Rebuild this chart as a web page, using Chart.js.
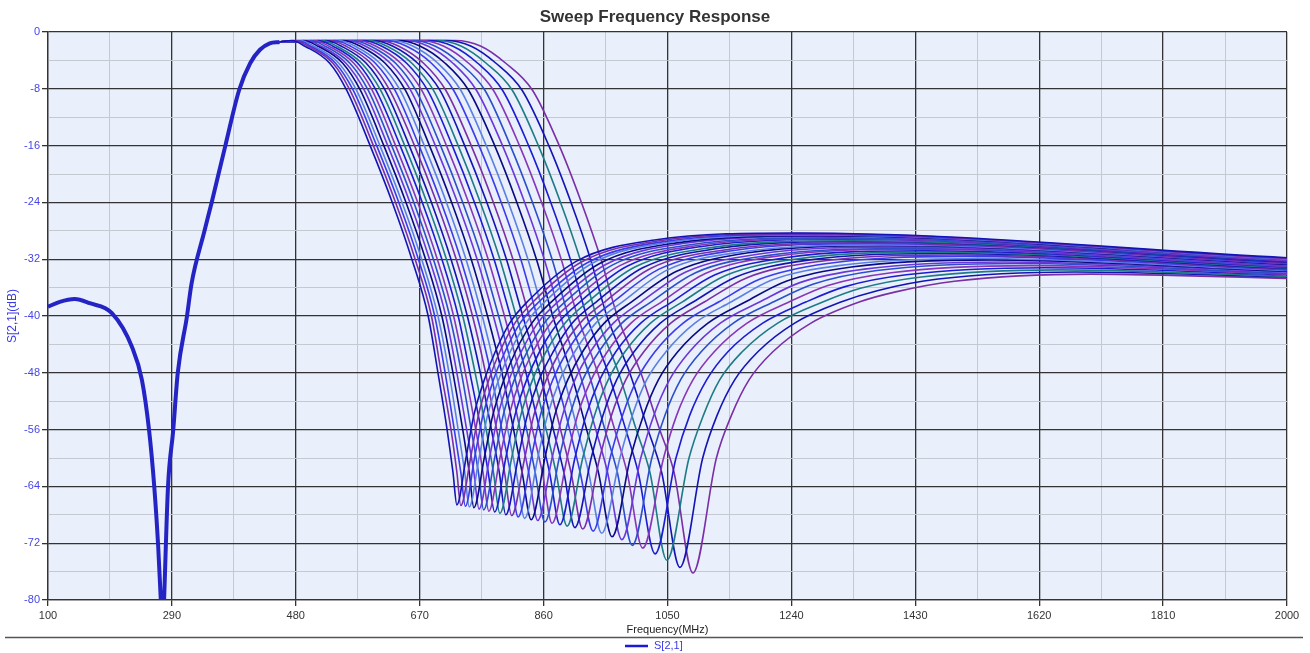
<!DOCTYPE html>
<html>
<head>
<meta charset="utf-8">
<title>Sweep Frequency Response</title>
<script src="https://cdn.jsdelivr.net/npm/chart.js@4.4.1/dist/chart.umd.min.js"></script>
<style>
  html, body { margin: 0; padding: 0; background: #fff; }
  #wrap { width: 1310px; height: 653px; position: relative; }
</style>
</head>
<body>
<div id="wrap"><canvas id="sweepChart"></canvas></div>
<script>
// =================== DATA ===================
// shared low-frequency part (all sweeps overlap here)
const freqLow = [100, 118, 141, 164, 198, 229, 244, 255, 263, 269, 273, 275.5, 278, 284, 292, 299, 313, 320, 340, 351, 372, 393, 410, 425, 440, 455];
const dbLow = [-38.7, -38.0, -37.6, -38.2, -39.6, -44.4, -49.0, -56.1, -64.1, -72.5, -80, -86, -80, -64.1, -56.1, -48.0, -40.1, -35.5, -28.0, -24.0, -16.0, -8.2, -4.4, -2.5, -1.6, -1.4];

// roll-off: frequency (MHz) where each sweep crosses these levels
const rollLevels = [-1.2, -2, -4.4, -8.2, -16, -24, -32, -40, -48, -56, -62];
const rollFreq = [
	[474, 494, 532, 558, 594, 628, 658, 683, 698, 712, 721],
	[478, 499, 537, 563, 599, 633, 663, 688, 703, 718, 727],
	[483, 503, 541, 568, 604, 638, 668, 693, 709, 723, 733],
	[487, 508, 546, 573, 609, 643, 673, 698, 715, 729, 739],
	[492, 514, 552, 579, 615, 649, 679, 704, 721, 736, 746],
	[497, 519, 557, 585, 621, 655, 685, 710, 727, 742, 753],
	[503, 525, 563, 591, 627, 661, 691, 716, 734, 749, 760],
	[508, 531, 569, 597, 633, 667, 697, 722, 740, 756, 767],
	[514, 537, 575, 603, 640, 674, 704, 729, 747, 764, 775],
	[520, 543, 581, 610, 647, 681, 711, 736, 755, 772, 783],
	[526, 550, 588, 617, 654, 688, 718, 743, 763, 780, 792],
	[532, 557, 595, 624, 662, 696, 726, 751, 771, 788, 800],
	[539, 564, 602, 632, 669, 703, 733, 758, 779, 796, 809],
	[546, 571, 609, 640, 677, 711, 741, 766, 787, 805, 818],
	[553, 579, 617, 648, 685, 719, 749, 774, 796, 814, 827],
	[560, 587, 625, 656, 694, 728, 758, 783, 805, 824, 837],
	[567, 595, 633, 664, 702, 736, 766, 791, 814, 834, 847],
	[575, 603, 641, 673, 711, 745, 775, 800, 823, 843, 858],
	[583, 612, 650, 682, 720, 754, 784, 809, 833, 854, 869],
	[591, 620, 658, 691, 729, 763, 793, 818, 843, 864, 879],
	[599, 629, 667, 701, 739, 773, 803, 828, 854, 875, 891],
	[608, 638, 676, 710, 749, 783, 813, 838, 864, 886, 902],
	[618, 650, 688, 722, 761, 795, 825, 850, 877, 900, 916],
	[628, 660, 698, 733, 772, 806, 836, 861, 889, 912, 929],
	[638, 671, 709, 745, 785, 819, 849, 874, 902, 926, 944],
	[649, 683, 721, 757, 797, 831, 861, 886, 915, 940, 958],
	[660, 694, 732, 770, 809, 843, 873, 898, 929, 954, 973],
	[671, 707, 745, 783, 823, 857, 887, 912, 943, 969, 988],
	[684, 721, 759, 797, 837, 871, 901, 926, 959, 986, 1005],
	[697, 734, 772, 812, 852, 886, 916, 941, 975, 1002, 1023],
	[710, 749, 787, 827, 868, 902, 932, 957, 992, 1020, 1041],
	[724, 764, 802, 843, 884, 918, 948, 973, 1009, 1038, 1060],
];

// notch of each sweep
const notchFreq = [727, 733, 740, 746, 753, 761, 768, 776, 785, 793, 802, 811, 821, 831, 841, 851, 862, 873, 885, 896, 908, 920, 936, 949, 965, 980, 996, 1012, 1031, 1049, 1069, 1089];
const notchDb = [-66.6, -66.7, -66.8, -66.9, -67.0, -67.2, -67.3, -67.5, -67.6, -67.8, -68.0, -68.1, -68.3, -68.5, -68.7, -68.8, -69.0, -69.2, -69.4, -69.6, -69.8, -70.0, -70.3, -70.6, -71.1, -71.5, -72.3, -72.7, -73.5, -74.4, -75.4, -76.2];

// recovery after the notch
const riseLevels = [-60, -54, -49, -45, -41, -38];
const riseFreq = [
	[741, 753, 769, 786, 808, 835],
	[748, 760, 776, 793, 816, 844],
	[754, 767, 783, 801, 824, 853],
	[761, 774, 791, 809, 833, 862],
	[769, 782, 799, 817, 842, 872],
	[777, 790, 807, 826, 851, 882],
	[785, 798, 815, 835, 861, 893],
	[793, 807, 824, 844, 871, 904],
	[802, 816, 834, 854, 882, 916],
	[811, 825, 843, 864, 893, 928],
	[821, 835, 853, 875, 904, 941],
	[831, 845, 864, 885, 916, 954],
	[841, 855, 874, 896, 928, 967],
	[851, 866, 885, 908, 940, 981],
	[862, 877, 897, 920, 953, 995],
	[873, 889, 908, 932, 967, 1010],
	[884, 900, 920, 945, 980, 1025],
	[896, 912, 933, 958, 994, 1041],
	[908, 925, 946, 971, 1009, 1057],
	[920, 938, 959, 985, 1024, 1073],
	[933, 951, 972, 999, 1039, 1090],
	[946, 964, 986, 1014, 1055, 1107],
	[962, 981, 1003, 1031, 1074, 1129],
	[977, 996, 1018, 1048, 1092, 1148],
	[993, 1013, 1036, 1066, 1112, 1170],
	[1009, 1029, 1053, 1084, 1131, 1192],
	[1026, 1046, 1070, 1102, 1151, 1213],
	[1044, 1064, 1089, 1122, 1172, 1237],
	[1063, 1084, 1110, 1143, 1196, 1263],
	[1083, 1105, 1130, 1165, 1219, 1289],
	[1104, 1126, 1153, 1189, 1245, 1317],
	[1125, 1148, 1175, 1212, 1270, 1345],
];

// stop-band plateau: knee, near-max, max (MHz) then the 2000 MHz end
const tailFreq = [
	[910, 1030, 1250], [918, 1038, 1258], [927, 1046, 1266], [936, 1054, 1274],
	[946, 1064, 1283], [956, 1073, 1292], [966, 1082, 1301], [977, 1093, 1311],
	[988, 1103, 1322], [1000, 1114, 1332], [1012, 1126, 1344], [1024, 1137, 1355],
	[1037, 1149, 1367], [1050, 1162, 1379], [1064, 1174, 1391], [1078, 1188, 1404],
	[1093, 1202, 1418], [1108, 1215, 1431], [1123, 1230, 1446], [1139, 1245, 1460],
	[1155, 1260, 1475], [1172, 1276, 1490], [1192, 1295, 1509], [1211, 1312, 1526],
	[1232, 1332, 1546], [1253, 1352, 1565], [1274, 1371, 1584], [1296, 1393, 1605],
	[1321, 1416, 1628], [1346, 1439, 1651], [1373, 1465, 1675], [1400, 1490, 1700],
];
const tailDb = [
	[-32.3, -29.3, -28.3, -31.8], [-32.4, -29.4, -28.4, -31.9], [-32.5, -29.5, -28.5, -31.9], [-32.5, -29.6, -28.6, -32.0],
	[-32.6, -29.7, -28.7, -32.0], [-32.7, -29.8, -28.8, -32.1], [-32.8, -30.0, -29.0, -32.1], [-32.9, -30.1, -29.1, -32.2],
	[-33.0, -30.2, -29.2, -32.3], [-33.1, -30.4, -29.4, -32.3], [-33.2, -30.5, -29.5, -32.4], [-33.3, -30.7, -29.7, -32.5],
	[-33.4, -30.8, -29.8, -32.6], [-33.5, -31.0, -30.0, -32.6], [-33.7, -31.1, -30.1, -32.7], [-33.8, -31.3, -30.3, -32.8],
	[-33.9, -31.5, -30.5, -32.9], [-34.0, -31.6, -30.6, -33.0], [-34.2, -31.8, -30.8, -33.1], [-34.3, -32.0, -31.0, -33.2],
	[-34.5, -32.2, -31.2, -33.3], [-34.6, -32.4, -31.4, -33.4], [-34.8, -32.6, -31.6, -33.5], [-34.9, -32.9, -31.9, -33.6],
	[-35.1, -33.1, -32.1, -33.7], [-35.3, -33.4, -32.4, -33.8], [-35.5, -33.6, -32.6, -34.0], [-35.7, -33.9, -32.9, -34.1],
	[-35.9, -34.2, -33.2, -34.2], [-36.1, -34.5, -33.5, -34.4], [-36.4, -34.8, -33.8, -34.5], [-36.6, -35.1, -34.1, -34.7],
];

// axis ticks
const xTicks = [100, 195, 290, 385, 480, 575, 670, 765, 860, 955, 1050, 1145, 1240, 1335, 1430, 1525, 1620, 1715, 1810, 1905, 2000];
const xLabels = [100, 290, 480, 670, 860, 1050, 1240, 1430, 1620, 1810, 2000];
const yTicks = [-80, -76, -72, -68, -64, -60, -56, -52, -48, -44, -40, -36, -32, -28, -24, -20, -16, -12, -8, -4, 0];
const yLabels = [-80, -72, -64, -56, -48, -40, -32, -24, -16, -8, 0];

const sweepColors = ["#1414b4", "#7a2fa6", "#3b3bec", "#5b80e2", "#0a0a82", "#6b36da", "#2c4ecb", "#8836b8", "#1c1cd2", "#1e7b86"];

// =================== BUILD DATASETS ===================
const lowPoints = freqLow.map((f, i) => ({ x: f, y: dbLow[i] }));
const joinPoint = lowPoints[lowPoints.length - 1];

const sweepSets = notchFreq.map((nf, k) => {
	const pts = [joinPoint];
	rollFreq[k].forEach((f, i) => pts.push({ x: f, y: rollLevels[i] }));
	pts.push({ x: nf, y: notchDb[k] });
	riseFreq[k].forEach((f, i) => pts.push({ x: f, y: riseLevels[i] }));
	tailFreq[k].forEach((f, i) => pts.push({ x: f, y: tailDb[k][i] }));
	pts.push({ x: 2000, y: tailDb[k][3] });
	return {
		label: "S[2,1]",
		data: pts,
		borderColor: sweepColors[k % sweepColors.length],
		borderWidth: 1.6,
	};
});

const datasets = [
	{ label: "S[2,1]", data: lowPoints, borderColor: "#2424c4", borderWidth: 4 },
	...sweepSets,
];

// =================== DECORATION ===================
const isMajorX = (v) => xLabels.includes(v);
const isMajorY = (v) => yLabels.includes(v);

const decorPlugin = {
	id: "decor",
	beforeDraw(chart) {
		const { ctx, chartArea: a } = chart;
		ctx.save();
		ctx.fillStyle = "#e9effb";
		ctx.fillRect(a.left, a.top, a.right - a.left, a.bottom - a.top);
		ctx.restore();
	},
	afterDraw(chart) {
		const { ctx, chartArea: a } = chart;
		ctx.save();
		// title
		ctx.fillStyle = "#333";
		ctx.font = 'bold 17px "Liberation Sans", Arial, sans-serif';
		ctx.textAlign = "center";
		ctx.textBaseline = "middle";
		ctx.fillText("Sweep Frequency Response", 655, 17);
		// x title
		ctx.font = '11px "Liberation Sans", Arial, sans-serif';
		ctx.fillStyle = "#222";
		ctx.fillText("Frequency(MHz)", (a.left + a.right) / 2, 630);
		// y title
		ctx.save();
		ctx.translate(13, (a.top + a.bottom) / 2);
		ctx.rotate(-Math.PI / 2);
		ctx.fillStyle = "#3a3ae6";
		ctx.font = '12px "Liberation Sans", Arial, sans-serif';
		ctx.fillText("S[2,1](dB)", 0, 0);
		ctx.restore();
		// separator line
		ctx.strokeStyle = "#555";
		ctx.lineWidth = 1.5;
		ctx.beginPath();
		ctx.moveTo(5, 637.5);
		ctx.lineTo(1303, 637.5);
		ctx.stroke();
		// legend
		ctx.strokeStyle = "#1a1ad8";
		ctx.lineWidth = 2.5;
		ctx.beginPath();
		ctx.moveTo(625, 646);
		ctx.lineTo(648, 646);
		ctx.stroke();
		ctx.fillStyle = "#3a3ae6";
		ctx.textAlign = "left";
		ctx.font = '11px "Liberation Sans", Arial, sans-serif';
		ctx.fillText("S[2,1]", 654, 646);
		ctx.restore();
	},
};

// =================== CHART ===================
Chart.defaults.font.family = '"Liberation Sans", Arial, sans-serif';

new Chart(document.getElementById("sweepChart"), {
	type: "line",
	data: { datasets },
	options: {
		responsive: true,
		maintainAspectRatio: false,
		animation: false,
		events: [],
		layout: { padding: { top: 32, right: 23, left: 0, bottom: 0 } },
		elements: {
			point: { radius: 0 },
			line: { cubicInterpolationMode: "monotone", fill: false },
		},
		plugins: {
			legend: { display: false },
			title: { display: false },
			tooltip: { enabled: false },
		},
		scales: {
			x: {
				type: "linear",
				min: 100,
				max: 2000,
				afterFit: (s) => { s.height = 53; },
				afterBuildTicks: (s) => { s.ticks = xTicks.map((v) => ({ value: v })); },
				ticks: {
					autoSkip: false,
					maxRotation: 0,
					padding: 3,
					color: "#333",
					font: { size: 11 },
					callback: (v) => (isMajorX(v) ? String(v) : ""),
				},
				grid: {
					color: (c) => (isMajorX(c.tick.value) ? "#333" : "#c5cad2"),
					lineWidth: (c) => (isMajorX(c.tick.value) ? 1.3 : 1),
					tickColor: (c) => (isMajorX(c.tick.value) ? "#333" : "rgba(0,0,0,0)"),
					tickLength: 6,
				},
				border: { color: "#333", width: 1.3 },
			},
			y: {
				type: "linear",
				min: -80,
				max: 0,
				afterFit: (s) => { s.width = 48; },
				afterBuildTicks: (s) => { s.ticks = yTicks.map((v) => ({ value: v })); },
				ticks: {
					autoSkip: false,
					padding: 2,
					color: "#4646e8",
					font: { size: 11 },
					callback: (v) => (isMajorY(v) ? String(v) : ""),
				},
				grid: {
					color: (c) => (isMajorY(c.tick.value) ? "#333" : "#c5cad2"),
					lineWidth: (c) => (isMajorY(c.tick.value) ? 1.3 : 1),
					tickColor: (c) => (isMajorY(c.tick.value) ? "#333" : "rgba(0,0,0,0)"),
					tickLength: 6,
				},
				border: { color: "#333", width: 1.3 },
			},
		},
	},
	plugins: [decorPlugin],
});
</script>
</body>
</html>
